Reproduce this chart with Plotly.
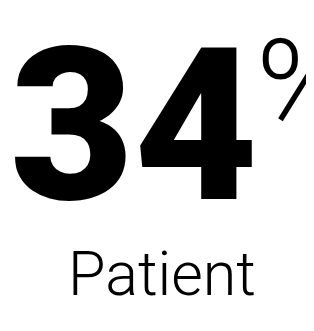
import plotly.graph_objects as go

W, H = 314, 331
value = [34]
suffix = ["%"]
label = ["Patient"]

fig = go.Figure()

def px(x):
    return x / W

def py(y):
    return 1 - y / H

fig.add_annotation(text=str(value[0]), x=px(126), y=py(117), xref="paper", yref="paper",
                   xanchor="center", yanchor="middle", showarrow=False,
                   font=dict(family="Roboto", size=214, color="#000000", weight=900))
fig.add_annotation(text=suffix[0], x=px(246), y=py(77.5), xref="paper", yref="paper",
                   xanchor="left", yanchor="middle", showarrow=False,
                   font=dict(family="Roboto", size=126, color="#000000", weight=300))
fig.add_annotation(text=label[0], x=px(154), y=py(265.5), xref="paper", yref="paper",
                   xanchor="center", yanchor="middle", showarrow=False,
                   font=dict(family="Roboto", size=61, color="#000000", weight=300))

fig.update_layout(width=W, height=H, margin=dict(l=0, r=0, t=0, b=0),
                  paper_bgcolor="white", plot_bgcolor="white",
                  xaxis=dict(visible=False), yaxis=dict(visible=False),
                  showlegend=False)
fig.write_html("out.html")
